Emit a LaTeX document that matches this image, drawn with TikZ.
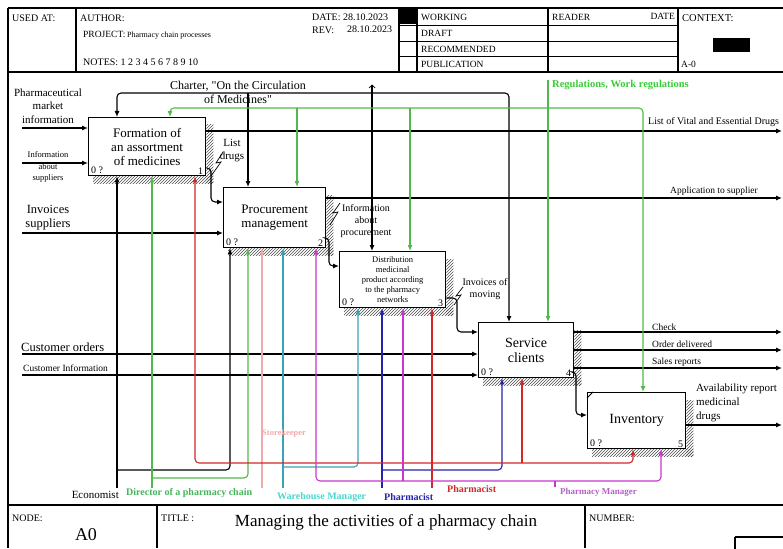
\documentclass[tikz,border=0pt]{standalone}
\usepackage{fontspec}
\setmainfont{Liberation Serif}
\usetikzlibrary{arrows.meta,patterns,calc}

\definecolor{cgreen}{RGB}{80,185,75}
\definecolor{cgreenlbl}{RGB}{55,205,55}
\definecolor{cgreendir}{RGB}{70,180,90}
\definecolor{cred}{RGB}{210,40,40}
\definecolor{cblue}{RGB}{35,35,175}
\definecolor{cteal}{RGB}{55,165,180}
\definecolor{ctealtext}{RGB}{75,215,205}
\definecolor{cpink}{RGB}{240,170,170}
\definecolor{cmag}{RGB}{200,55,205}
\definecolor{cpurple}{RGB}{180,95,200}

\newcommand{\fsz}[2]{\fontsize{#1}{#2}\selectfont}
% hatched IDEF0 shadow along the right and bottom edges of a box
\newcommand{\hatchshadow}[1]{%
  \fill[hatch] ($(#1.north east)+(0,8)$) rectangle ($(#1.south east)+(7,7)$);
  \fill[hatch] ($(#1.south west)+(5,0)$) rectangle ($(#1.south east)+(7,7)$);}

\begin{document}
\begin{tikzpicture}[x=1pt,y=-1pt,
  box/.style={draw,line width=1.3pt,fill=white,inner sep=0pt,anchor=north west,align=center},
  flow/.style={line width=1.1pt,rounded corners=4pt,-{Latex[length=6pt,width=5pt]}},
  wire/.style={line width=1.1pt,rounded corners=4pt},
  hatch/.style={pattern=north east lines,pattern color=black!70},
  frame/.style={line width=1.2pt},
  thin/.style={line width=0.8pt},
  txt/.style={inner sep=0pt},
  corner/.style={inner sep=0pt,font=\fsz{10}{11}},
  zig/.style={line width=0.7pt}
]
\useasboundingbox (0,0) rectangle (783,548);

% ---------------- header frame ----------------
\draw[frame] (8,8) -- (783,8);
\draw[frame] (8,8) -- (8,548);
\draw[frame] (8,72) -- (783,72);
\draw[frame] (76,8) -- (76,72);
\draw[frame] (399,8) -- (399,72);
\draw[frame] (417,8) -- (417,72);
\draw[frame] (548,8) -- (548,72);
\draw[frame] (678,8) -- (678,72);
\draw[thin] (399,25) -- (678,25);
\draw[thin] (399,41) -- (678,41);
\draw[thin] (399,56) -- (678,56);
\fill (400,9) rectangle (416,24);
\fill (713,38) rectangle (750,52);

\node[txt,anchor=west,font=\fsz{10}{11}] (usedat) at (12,18) {USED AT:};
\node[txt,anchor=west,font=\fsz{10}{11}] (author) at (80,18) {AUTHOR:};
\node[txt,anchor=west,font=\fsz{9.5}{11}] (project) at (83,35) {PROJECT:\,{\fsz{8}{9}Pharmacy chain processes}};
\node[txt,anchor=west,font=\fsz{10}{11}] (notes) at (83,62) {NOTES: 1 2 3 4 5 6 7 8 9 10};
\node[txt,anchor=west,font=\fsz{10}{11}] (date) at (312,17) {DATE: 28.10.2023};
\node[txt,anchor=west,font=\fsz{10}{11}] (rev) at (312,30) {REV:};
\node[txt,anchor=west,font=\fsz{10}{11}] (revdate) at (347,29) {28.10.2023};
\node[txt,anchor=west,font=\fsz{9.5}{11}] (working) at (421,17) {WORKING};
\node[txt,anchor=west,font=\fsz{9.5}{11}] (draft) at (421,33) {DRAFT};
\node[txt,anchor=west,font=\fsz{9.5}{11}] (recom) at (421,49) {RECOMMENDED};
\node[txt,anchor=west,font=\fsz{9.5}{11}] (publ) at (421,64) {PUBLICATION};
\node[txt,anchor=west,font=\fsz{9.5}{11}] (reader) at (552,17) {READER};
\node[txt,anchor=east,font=\fsz{9.5}{11}] (rdate) at (675,16) {DATE};
\node[txt,anchor=west,font=\fsz{10.5}{12}] (context) at (682,18) {CONTEXT:};
\node[txt,anchor=west,font=\fsz{9.5}{11}] (aminus) at (681,64) {A-0};

% ---------------- footer frame ----------------
\draw[frame] (8,505) -- (783,505);
\draw[frame] (157,505) -- (157,548);
\draw[frame] (585,505) -- (585,548);
\draw[frame] (735,537) -- (735,550) (735,537) -- (785,537);
\node[txt,anchor=west,font=\fsz{10}{11}] (nodelbl) at (12,518) {NODE:};
\node[txt,font=\fsz{18}{20}] (nodeid) at (86,535) {A0};
\node[txt,anchor=west,font=\fsz{10}{11}] (titlelbl) at (161,518) {TITLE :};
\node[txt,font=\fsz{17}{19}] (title) at (386,522) {Managing the activities of a pharmacy chain};
\node[txt,anchor=west,font=\fsz{10}{11}] (numlbl) at (589,518) {NUMBER:};

% ---------------- activity boxes ----------------
\node[box,minimum width=117pt,minimum height=58pt,font=\fsz{13}{14}] (b1) at (88,117) {Formation of\\an assortment\\of medicines};
\node[box,minimum width=102pt,minimum height=60pt,font=\fsz{13}{14}] (b2) at (223,187) {Procurement\\management};
\node[box,minimum width=106pt,minimum height=56pt,font=\fsz{8.5}{10}] (b3) at (339,251) {Distribution\\medicinal\\product according\\to the pharmacy\\networks};
\node[box,minimum width=95pt,minimum height=55pt,font=\fsz{14}{15}] (b4) at (478,322) {Service\\clients};
\node[box,minimum width=98pt,minimum height=56pt,font=\fsz{14}{15}] (b5) at (587,392) {Inventory};

\hatchshadow{b1}
\hatchshadow{b2}
\hatchshadow{b3}
\hatchshadow{b4}
\hatchshadow{b5}
\draw[thin] (587,398) -- (593,392);

\foreach \b/\n in {b1/1,b2/2,b3/3,b4/4,b5/5}{
  \node[corner,anchor=south west] (\b q) at ($(\b.south west)+(3,-2)$) {0 ?};
  \node[corner,anchor=south east] (\b n) at ($(\b.south east)+(-3,-2)$) {\n};
}

% ---------------- inputs ----------------
\coordinate (in1) at (22,128);
\coordinate (in2) at (22,163);
\coordinate (in3) at (22,233);
\coordinate (in4) at (22,354);
\coordinate (in5) at (22,375);
\draw[flow] (in1) -- (in1 -| b1.west);
\draw[flow] (in2) -- (in2 -| b1.west);
\draw[flow] (in3) -- (in3 -| b2.west);
\draw[flow] (in4) -- (in4 -| b4.west);
\draw[flow] (in5) -- (in5 -| b4.west);

\node[txt,align=center,font=\fsz{11}{13.5}] (tpmi) at (48,106) {Pharmaceutical\\market\\information};
\node[txt,align=center,font=\fsz{8.5}{11.5}] (tinf) at (48,167) {Information\\about\\suppliers};
\node[txt,align=center,font=\fsz{12.5}{14}] (tinv) at (48,218) {Invoices\\suppliers};
\node[txt,anchor=west,font=\fsz{12.5}{14}] (tco) at (21,347) {Customer orders};
\node[txt,anchor=west,font=\fsz{9.5}{11}] (tci) at (23,368) {Customer Information};

% ---------------- outputs ----------------
\coordinate (out1) at (782,131);
\coordinate (out2) at (782,198);
\coordinate (out3) at (782,332);
\coordinate (out4) at (782,350);
\coordinate (out5) at (782,368);
\coordinate (out6) at (782,425);
\draw[flow] (out1 -| b1.east) -- (out1);
\draw[flow] (out2 -| b2.east) -- (out2);
\draw[flow] (out3 -| b4.east) -- (out3);
\draw[flow] (out4 -| b4.east) -- (out4);
\draw[flow] (out5 -| b4.east) -- (out5);
\draw[flow] (out6 -| b5.east) -- (out6);

\node[txt,anchor=west,font=\fsz{10}{11}] (tlved) at (648,122) {List of Vital and Essential Drugs};
\node[txt,anchor=west,font=\fsz{9.5}{11}] (tapp) at (670,191) {Application to supplier};
\node[txt,anchor=west,font=\fsz{9.5}{11}] (tcheck) at (652,327) {Check};
\node[txt,anchor=west,font=\fsz{9.5}{11}] (torder) at (652,344) {Order delivered};
\node[txt,anchor=west,font=\fsz{9.5}{11}] (tsales) at (652,362) {Sales reports};
\node[txt,anchor=north west,align=left,font=\fsz{11}{14}] (tavail) at (696,384) {Availability report\\medicinal\\drugs};

% ---------------- box to box ----------------
\draw[flow] (b1.east |- 0,168) -- (211,168) -- (211,202) -- (b2.west |- 0,202);
\draw[flow] (b2.east |- 0,238) -- (329,238) -- (329,266) -- (b3.west |- 0,266);
\draw[flow] (b3.east |- 0,298) -- (457,298) -- (457,332) -- (b4.west |- 0,332);
\draw[flow] (b4.east |- 0,372) -- (576,372) -- (576,415) -- (b5.west |- 0,415);

\node[txt,align=center,font=\fsz{11}{13}] (tlist) at (232,151) {List\\drugs};
\draw[zig] (223,152) -- (216,163) -- (221,162) -- (211,176);
\node[txt,align=center,font=\fsz{10}{12}] (tinfo) at (366,221) {Information\\about\\procurement};
\draw[zig] (340,203) -- (333,213) -- (338,212) -- (330,225);
\node[txt,align=center,font=\fsz{10}{12}] (tmove) at (485,289) {Invoices of\\moving};
\draw[zig] (463,287) -- (456,296) -- (461,295) -- (454,305);

% ---------------- controls ----------------
\node[txt,align=center,font=\fsz{12}{14}] (tch) at (238,92) {Charter, \textquotedbl On the Circulation\\of Medicines\textquotedbl};
\coordinate (ch) at (372,85);
\draw[flow] (ch) -- (ch |- b3.north);
\draw[flow] (ch |- 0,93) -| (b1.north -| 117,0);
\draw[flow] (ch |- 0,93) -| (b4.north -| 509,0);
\draw[flow] (248,93) -- (b2.north -| 248,0);
\draw[line width=0.7pt] (369,88) -- (372,85) -- (375,88);

\node[txt,anchor=west,font=\bfseries\fsz{10.5}{12},text=cgreenlbl] (treg) at (552,85) {Regulations, Work regulations};
\coordinate (rg) at (548,80);
\begin{scope}[cgreen]
\draw[flow] (rg) -- (rg |- b4.north);
\draw[flow] (rg |- 0,108) -| (b1.north -| 170,0);
\draw[flow] (rg |- 0,108) -| (b5.north -| 643,0);
\draw[flow] (297,108) -- (b2.north -| 297,0);
\draw[flow] (410,108) -- (b3.north -| 410,0);
\end{scope}

% ---------------- mechanisms ----------------
% Economist
\coordinate (econ) at (117,488);
\draw[flow] (econ) -- (econ |- b1.south);
\draw[flow] (econ |- 0,470) -| (b2.south -| 230,0);
% Director of a pharmacy chain
\coordinate (dir) at (152,488);
\begin{scope}[cgreen]
\draw[flow] (dir) -- (dir |- b1.south);
\draw[flow] (dir |- 0,478) -| (b2.south -| 248,0);
\end{scope}
% Storekeeper
\coordinate (store) at (262,488);
\draw[flow,cpink] (store) -- (store |- b2.south);
% Warehouse Manager
\coordinate (ware) at (283,488);
\begin{scope}[cteal]
\draw[flow] (ware) -- (ware |- b2.south);
\draw[flow] (ware |- 0,467) -| (b3.south -| 358,0);
\end{scope}
% Pharmacist (blue)
\coordinate (pharmb) at (382,488);
\begin{scope}[cblue]
\draw[flow] (pharmb) -- (pharmb |- b3.south);
\draw[flow] (pharmb |- 0,470) -| (b4.south -| 502,0);
\end{scope}
% Pharmacist (red)
\coordinate (pharmr) at (432,488);
\begin{scope}[cred]
\draw[flow] (pharmr) -- (pharmr |- b3.south);
\draw[flow] (pharmr |- 0,463) -| (b1.south -| 195,0);
\draw[flow] (pharmr |- 0,463) -| (b5.south -| 633,0);
\draw[flow] (522,463) -- (b4.south -| 522,0);
\end{scope}
% Pharmacy Manager
\coordinate (pmgr) at (555,487);
\begin{scope}[cmag]
\draw[wire] (pmgr) -- (555,481);
\draw[flow] (555,481) -| (b2.south -| 316,0);
\draw[flow] (555,481) -| (b5.south -| 661,0);
\draw[flow] (403,481) -- (b3.south -| 403,0);
\end{scope}

\node[txt,anchor=east,font=\fsz{11}{12}] (teco) at (119,495) {Economist};
\node[txt,anchor=west,font=\bfseries\fsz{10}{11},text=cgreendir] (tdir) at (126,493) {Director of a pharmacy chain};
\node[txt,anchor=west,font=\bfseries\fsz{8.5}{10},text=cpink] (tstore) at (262,433) {Storekeeper};
\node[txt,anchor=west,font=\bfseries\fsz{10}{11},text=ctealtext] (tware) at (277,497) {Warehouse Manager};
\node[txt,anchor=west,font=\bfseries\fsz{10}{11},text=cblue] (tpb) at (384,497) {Pharmacist};
\node[txt,anchor=west,font=\bfseries\fsz{10}{11},text=cred] (tpr) at (447,489) {Pharmacist};
\node[txt,anchor=west,font=\bfseries\fsz{9}{10},text=cpurple] (tpm) at (560,492) {Pharmacy Manager};

\end{tikzpicture}
\end{document}
